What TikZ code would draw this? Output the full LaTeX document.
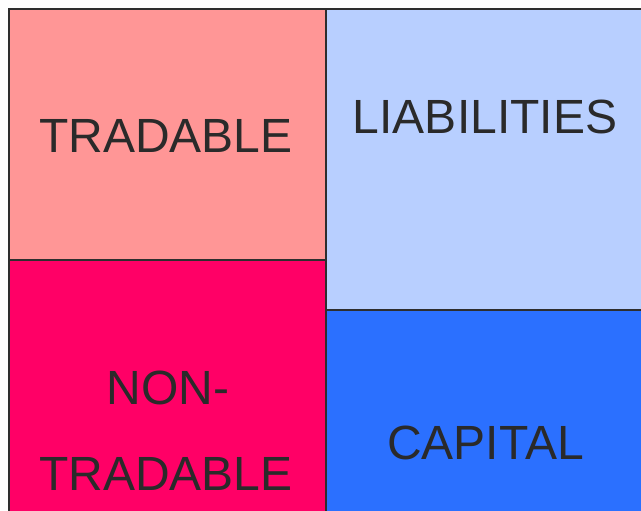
\documentclass[tikz,border=0pt]{standalone}
\usepackage{fontspec}
\setmainfont{Liberation Sans}
\definecolor{tradc}{HTML}{FF9696}
\definecolor{ntradc}{HTML}{FF0066}
\definecolor{liabc}{HTML}{B8CFFF}
\definecolor{capc}{HTML}{2B70FF}
\definecolor{edgec}{HTML}{2E2E2E}
\definecolor{txtc}{HTML}{2A2A2A}
\begin{document}
\begin{tikzpicture}[x=1pt,y=1pt,
  cell/.style={draw=edgec,line width=2pt},
  lbl/.style={anchor=base,inner sep=0pt,text=txtc,font=\fontsize{48}{58}\selectfont}]
\useasboundingbox (0,0) rectangle (641,511);
\clip (0,0) rectangle (641,511);
\path[cell,fill=tradc] (9,502) rectangle (326,250.5);
\path[cell,fill=ntradc] (9,250.5) rectangle (326,-20);
\path[cell,fill=liabc] (326,502) rectangle (660,200.7);
\path[cell,fill=capc] (326,200.7) rectangle (660,-20);
\node[lbl] (trad) at (166,358.7) {TRADABLE};
\node[lbl] (liab) at (485,377.7) {LIABILITIES};
\node[lbl] (non) at (168,106) {NON-};
\node[lbl] (ntrad) at (166,20) {TRADABLE};
\node[lbl] (cap) at (485.5,51) {CAPITAL};
\end{tikzpicture}
\end{document}
